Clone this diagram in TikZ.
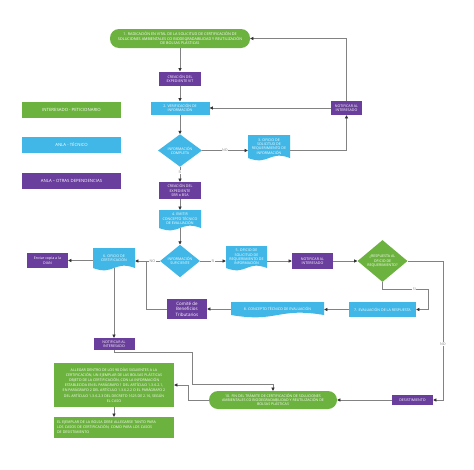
\documentclass[tikz,border=0pt]{standalone}
\usepackage{fontspec}
\setmainfont{Open Sans}
\usetikzlibrary{arrows.meta,shapes.geometric,calc}
\definecolor{ggreen}{RGB}{108,178,62}
\definecolor{ablue}{RGB}{64,183,230}
\definecolor{apurple}{RGB}{106,62,156}
\definecolor{lgray}{RGB}{130,130,130}
\definecolor{dgray}{RGB}{50,50,50}
\newcommand\fs{\fontsize{3.6}{4.3}\selectfont}
\newcommand\docshape[6]{%
  \pgfmathsetmacro\dw{#4-#2}%
  \pgfmathsetmacro\dh{#5-#3}%
  \pgfmathsetmacro\dm{(#2+#4)/2}%
  \pgfmathsetmacro\dc{(#3+#5)/2}%
  \fill[ablue] (#2,#3) -- (#4,#3) -- (#4,#5) .. controls (\dm,#5-8) and (\dm,#5+8) .. (#2,#5) -- cycle;
  \node[boxtext,minimum width=\dw pt,minimum height=\dh pt] (#1) at (\dm,\dc) {#6};
}
\begin{document}
\begin{tikzpicture}[x=1pt,y=-1pt,
  boxtext/.style={rectangle,inner sep=0pt,align=center,text=white,font=\fs},
  gbox/.style={boxtext,fill=ggreen},
  bbox/.style={boxtext,fill=ablue},
  pbox/.style={boxtext,fill=apurple},
  pill/.style={gbox,rounded corners=9pt},
  legend/.style={minimum width=99pt,minimum height=16pt,font=\fontsize{4.3}{5}\selectfont},
  dia/.style={diamond,inner sep=0pt,align=center,text=white,font=\fs},
  conn/.style={draw=lgray,line width=0.7pt,-{Triangle[length=3.2pt,width=3.2pt,color=dgray]}},
  plain/.style={draw=lgray,line width=0.7pt},
  lab/.style={font=\fs,text=lgray,fill=white,inner sep=0.6pt}]
\useasboundingbox (0,0) rectangle (474,469);
\fill[white] (0,0) rectangle (474,469);

% legend
\node[gbox,legend] (lg) at (71.5,110) {INTERESADO - PETICIONARIO};
\node[bbox,legend] (lb) at (71.5,145) {ANLA - TÉCNICO};
\node[pbox,legend] (lp) at (71.5,181) {ANLA – OTRAS DEPENDENCIAS};

% main column
\node[pill,minimum width=140pt,minimum height=19pt,font=\fontsize{3.75}{4.4}\selectfont] (t1) at (180,38.5)
  {1. RADICACIÓN EN VITAL DE LA SOLICITUD DE CERTIFICACIÓN DE\\SOLUCIONES AMBIENTALES CO BIODEGRADABILIDAD Y REUTILIZACIÓN\\DE BOLSAS PLÁSTICAS};
\node[pbox,minimum width=42pt,minimum height=14pt] (vit) at (180,78.5) {CREACIÓN DEL\\EXPEDIENTE VIT};
\node[bbox,minimum width=59pt,minimum height=13pt] (v2) at (180,108) {2. VERIFICACIÓN DE\\INFORMACIÓN};
\node[pbox,minimum width=31pt,minimum height=14pt] (not1) at (346.5,108) {NOTIFICAR AL\\INTERESADO};
\node[dia,fill=ablue,minimum width=44pt,minimum height=27pt] (d1) at (180,150.5) {INFORMACIÓN\\COMPLETA};
\docshape{doc3}{248}{135}{290}{158}{3. OFICIO DE\\SOLICITUD DE\\REQUERIMIENTO DE\\INFORMACIÓN}
\node[pbox,minimum width=42pt,minimum height=17pt] (sbr) at (180,190.5) {CREACIÓN DEL\\EXPEDIENTE\\SBR o BSA};
\docshape{doc4}{159}{210}{201}{228}{4. EMITIR\\CONCEPTO TÉCNICO\\DE EVALUACIÓN}
\node[dia,fill=ablue,minimum width=40pt,minimum height=27pt] (d2) at (180,261) {INFORMACIÓN\\SUFICIENTE};
\docshape{doc5}{226}{246}{267}{268}{5. OFICIO DE\\SOLICITUD DE\\REQUERIMIENTO DE\\INFORMACIÓN}
\node[pbox,minimum width=41pt,minimum height=16pt] (not2) at (312.5,261) {NOTIFICAR AL\\INTERESADO};
\node[dia,fill=ggreen,minimum width=50pt,minimum height=33pt] (d3) at (382.5,261) {¿RESPUESTA AL\\OFICIO DE\\REQUERIMIENTO?};
\node[bbox,minimum width=67pt,minimum height=15pt] (ev7) at (382.5,309.5) {7. EVALUACIÓN DE LA RESPUESTA};
\docshape{doc8}{231}{302}{324}{315}{8. CONCEPTO TÉCNICO DE EVALUACIÓN}
\node[pbox,minimum width=40pt,minimum height=20pt,font=\fontsize{4.5}{5.4}\selectfont] (com) at (187,309) {Comité de\\Beneficios\\Tributarios};
\docshape{doc6}{93}{248}{135}{268}{6. OFICIO DE\\CERTIFICACIÓN}
\node[pbox,minimum width=41pt,minimum height=15pt] (dian) at (47.5,260.5) {Enviar copia a la\\DIAN};
\node[pbox,minimum width=41pt,minimum height=12pt] (not3) at (114,344) {NOTIFICAR AL\\INTERESADO};
\node[gbox,minimum width=120pt,minimum height=44pt,font=\fontsize{3.6}{5.2}\selectfont] (big) at (114,385)
  {ALLEGAR DENTRO DE LOS 90 DÍAS SIGUIENTES A LA\\CERTIFICACIÓN, UN EJEMPLAR DE LAS BOLSAS PLÁSTICAS\\OBJETO DE LA CERTIFICACIÓN, CON LA INFORMACIÓN\\ESTABLECIDA EN EL PARÁGRAFO 1 DEL ARTÍCULO 1.3.6.2.1,\\EN PARÁGRAFO 2 DEL ARTÍCULO 1.3.6.2.2 O EL PARÁGRAFO 2\\DEL ARTÍCULO 1.3.6.2.3 DEL DECRETO 1625 DE 2.16, SEGÚN\\EL CASO};
\node[gbox,minimum width=120pt,minimum height=21pt,align=left,text width=114pt,font=\fontsize{3.6}{5.2}\selectfont] (small) at (114,427.5)
  {EL EJEMPLAR DE LA BOLSA DEBE ALLEGARSE TANTO PARA\\LOS CASOS DE CERTIFICACIÓN, COMO PARA LOS CASOS\\DE DESISTIMIENTO};
\node[pill,minimum width=128pt,minimum height=18pt] (t2) at (273,400)
  {10. FIN DEL TRÁMITE DE CERTIFICACIÓN DE SOLUCIONES\\AMBIENTALES CO BIODEGRADABILIDAD Y REUTILIZACIÓN DE\\BOLSAS PLÁSTICAS};
\node[pbox,minimum width=41pt,minimum height=10pt] (des) at (412.5,400) {DESISTIMIENTO};

% helper coordinates
\coordinate (c1) at (443,261);
\coordinate (c2) at (428,289);
\coordinate (c3) at (146,261);
\coordinate (c4) at (192,384);
\coordinate (c5) at (188,385);

% connectors
\draw[conn] (t1.south) -- (vit.north);
\draw[conn] (vit.south) -- (v2.north);
\draw[conn] (not1.north) |- (t1.east);
\draw[conn] (not1.west) -- (v2.east);
\draw[conn] (v2.south) -- (d1.north);
\draw[conn] (d1.east) -- node[lab]{NO} (d1.east -| doc3.west);
\draw[conn] (doc3.east |- d1.east) -| (not1.south);
\draw[conn] (d1.south) -- node[lab,pos=0.35]{SI} (sbr.north);
\draw[conn] (sbr.south) -- (doc4.north);
\draw[conn] (doc4.south) -- (d2.north);
\draw[conn] (d2.east) -- node[lab]{SI} (d2.east -| doc5.west);
\draw[conn] (doc5.east |- not2.west) -- (not2.west);
\draw[conn] (not2.east) -- (d3.west);
\draw[conn] (d3.east) -- (c1) |- node[lab,pos=0.3]{NO} (des.east);
\draw[conn] (d3.south) |- node[lab,pos=0.85]{SI} (c2) |- (ev7.east);
\draw[conn] (ev7.west) -- (ev7.west -| doc8.east);
\draw[conn] (doc8.west |- com.east) -- (com.east);
\draw[plain] (com.west) -| (c3);
\draw[conn] (d2.west) -- node[lab,pos=0.3]{NO} (d2.west -| doc6.east);
\draw[conn] (dian.east -| doc6.west) -- (dian.east);
\draw[conn] (doc6.south) -- (not3.north);
\draw[conn] (not3.south) -- ++(0,2) -| (c4) -| (t2.north);
\draw[conn] (t2.west) -| (c5) -- (big.east);
\draw[conn] (des.west) -- (t2.east);
\draw[conn] (big.south) -- (small.north);
\end{tikzpicture}
\end{document}
